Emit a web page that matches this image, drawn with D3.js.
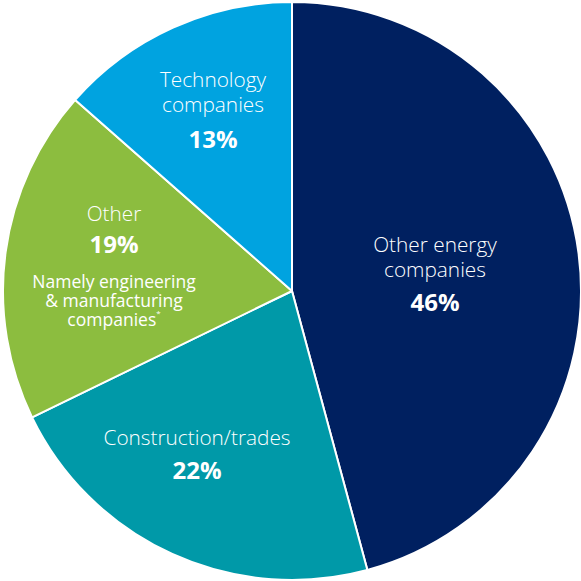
<!DOCTYPE html>
<html><head><meta charset="utf-8">
<script src="https://cdn.jsdelivr.net/npm/d3@7"></script>
<style>html,body{margin:0;padding:0;background:#fff;}svg{display:block;}</style>
</head><body>
<svg id="c" width="581" height="581"></svg>
<script>
const categories = ["Other energy companies", "Construction/trades", "Other", "Technology companies"];
const values = [45.8, 22.0, 18.7, 13.5];
// printed percentage labels
const pctLabels = ["46%", "22%", "19%", "13%"];
const colors = ["#002060", "#0099A8", "#8CBD3F", "#00A3E0"];

const svg = d3.select("#c");
const cx = 292, cy = 291, r = 289;
const g = svg.append("g").attr("transform", `translate(${cx},${cy})`);
const pie = d3.pie().sort(null).value(d => d.v);
const data = pie(categories.map((c, i) => ({c, v: values[i], col: colors[i], p: pctLabels[i]})));
const arc = d3.arc().innerRadius(0).outerRadius(r);
g.selectAll("path").data(data).enter().append("path")
  .attr("d", arc).attr("fill", d => d.data.col)
  .attr("stroke", "#fff").attr("stroke-width", 2).attr("stroke-linejoin", "round");

const font = "'Open Sans', sans-serif";
const layout = {
  "Other energy companies": {x: 435, lines: [["Other energy", 244], ["companies", 269]], pct: 301},
  "Construction/trades": {x: 197, lines: [["Construction/trades", 437]], pct: 469},
  "Other": {x: 114, lines: [["Other", 213]], pct: 243, note: [["Namely engineering", 281], ["& manufacturing", 300], ["companies", 319]]},
  "Technology companies": {x: 213, lines: [["Technology", 79], ["companies", 104]], pct: 138}
};
data.forEach(d => {
  const L = layout[d.data.c];
  L.lines.forEach(([t, y]) => {
    svg.append("text").attr("x", L.x).attr("y", y).attr("text-anchor", "middle")
      .attr("dominant-baseline", "central").attr("fill", "#fff")
      .attr("font-family", font).attr("font-weight", 300).attr("font-size", 20.8).text(t);
  });
  svg.append("text").attr("x", L.x).attr("y", L.pct).attr("text-anchor", "middle")
    .attr("dominant-baseline", "central").attr("fill", "#fff")
    .attr("font-family", font).attr("font-weight", 700).attr("font-size", 24).text(d.data.p);
  if (L.note) {
    L.note.forEach(([t, y], i) => {
      const tx = svg.append("text").attr("x", L.x).attr("y", y).attr("text-anchor", "middle")
        .attr("dominant-baseline", "central").attr("fill", "#fff")
        .attr("font-family", font).attr("font-weight", 400).attr("font-size", 17.5).text(t);
      if (i === L.note.length - 1) {
        tx.append("tspan").attr("font-size", 8).attr("dy", -7).text("*");
      }
    });
  }
});
</script>
</body></html>
